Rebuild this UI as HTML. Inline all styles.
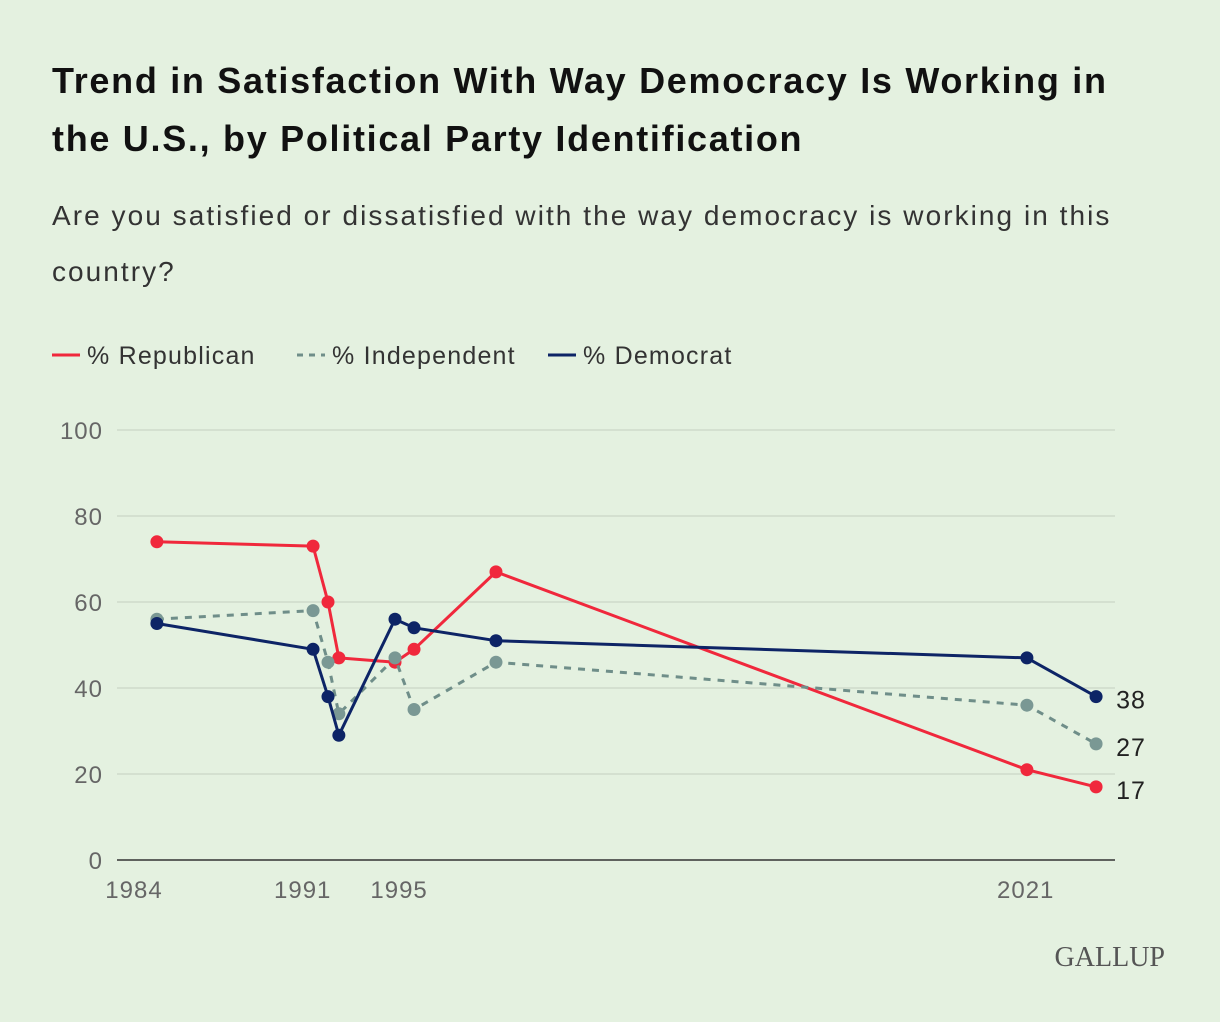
<!DOCTYPE html>
<html><head><meta charset="utf-8"><style>
body{margin:0;background:#e4f1e0;font-family:"Liberation Sans",sans-serif;}
#wrap{position:relative;width:1220px;height:1022px;overflow:hidden;background:#e4f1e0;}
h1{position:absolute;left:52px;top:52px;margin:0;font-size:36px;letter-spacing:1.7px;line-height:58px;font-weight:bold;color:#111;width:1090px;}
.sub{position:absolute;left:52px;top:188px;font-size:28px;letter-spacing:2.05px;line-height:56px;color:#333;width:1090px;}
</style></head><body>
<div id="wrap">
<h1>Trend in Satisfaction With Way Democracy Is Working in the U.S., by Political Party Identification</h1>
<div class="sub">Are you satisfied or dissatisfied with the way democracy is working in this country?</div>
<svg id="chart" width="1220" height="1022" style="position:absolute;left:0;top:0"></svg>
</div>
<script>
const years=[1984.95,1991.43,1992.05,1992.5,1994.83,1995.62,1999.02,2021.05,2023.92];
const republican=[74,73,60,47,46,49,67,21,17];
const independent=[56,58,46,34,47,35,46,36,27];
const democrat=[55,49,38,29,56,54,51,47,38];
const yTicks=[0,20,40,60,80,100];
const xTicks=[1984,1991,1995,2021];
const NS="http://www.w3.org/2000/svg";
const svg=document.getElementById('chart');
function xS(v){return 134+(v-1984)*24.1;}
function yS(v){return 860-v*4.3;}
function el(t,a,txt){const e=document.createElementNS(NS,t);for(const k in a)e.setAttribute(k,a[k]);if(txt!==undefined)e.textContent=txt;svg.appendChild(e);return e;}
yTicks.forEach(t=>{
 const g=el('line',{x1:117,x2:1115,y1:yS(t),y2:yS(t),stroke:t===0?'#333':'#c9d6c6','stroke-width':t===0?1.5:1.2});
 
 
 const l=el('text',{x:103,y:yS(t)+9,'text-anchor':'end','font-size':24,'letter-spacing':1,fill:'#666','font-family':'Liberation Sans, sans-serif'},t);
 
 
});
xTicks.forEach(t=>{
 const l=el('text',{x:xS(t),y:898,'text-anchor':'middle','font-size':24,'letter-spacing':1,fill:'#666','font-family':'Liberation Sans, sans-serif'},t);
 
 
});
const series=[
 {name:'republican',vals:republican,line:'#f0283c',dot:'#f0283c',dash:null,w:3},
 {name:'independent',vals:independent,line:'#6f8e89',dot:'#7a9894',dash:'7,7',w:3},
 {name:'democrat',vals:democrat,line:'#0d2466',dot:'#0d2466',dash:null,w:3}];
series.forEach(s=>{
 const pts=s.vals.map((v,i)=>xS(years[i])+','+yS(v)).join(' ');
 const a={points:pts,fill:'none',stroke:s.line,'stroke-width':s.w,'stroke-linejoin':'round'};
 if(s.dash)a['stroke-dasharray']=s.dash;
 const p=el('polyline',a);
 
 
 s.vals.forEach((v,i)=>{
  const c=el('circle',{cx:xS(years[i]),cy:yS(v),r:6.5,fill:s.dot});
  
  
 });
 const last=s.vals.length-1;
 const t=el('text',{x:xS(years[last])+20,y:yS(s.vals[last])+12,'font-size':25,'letter-spacing':1,fill:'#222','font-family':'Liberation Sans, sans-serif'},s.vals[last]);
 
 
});
const leg=[['% Republican','#f0283c',null,52],['% Independent','#6f8e89','6,6',297],['% Democrat','#0d2466',null,548]];
leg.forEach(l=>{
 const a={x1:l[3],x2:l[3]+28,y1:355,y2:355,stroke:l[1],'stroke-width':3};
 if(l[2])a['stroke-dasharray']=l[2];
 const ln=el('line',a);
 
 
 const t=el('text',{x:l[3]+35,y:364,'font-size':25,'letter-spacing':1.2,fill:'#333','font-family':'Liberation Sans, sans-serif'},l[0]);
 
 
});
const g=el('text',{x:1165,y:966,'text-anchor':'end','font-size':28,fill:'#555','font-family':'Liberation Serif, serif'},'GALLUP');


</script>
</body></html>
